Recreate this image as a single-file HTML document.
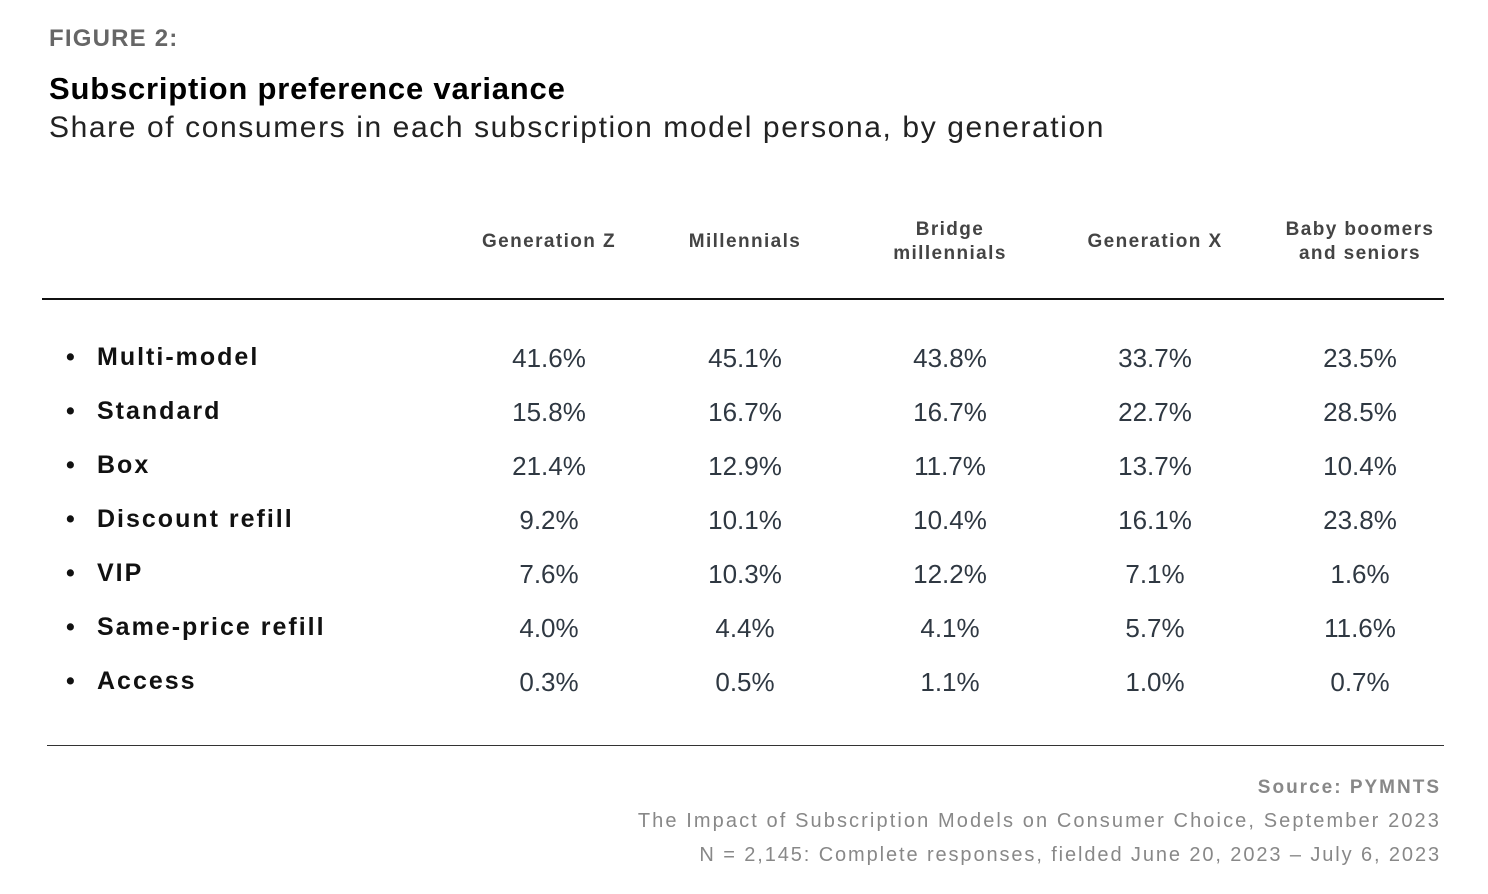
<!DOCTYPE html>
<html><head><meta charset="utf-8"><style>
body{margin:0;width:1488px;height:894px;background:#fff;font-family:"Liberation Sans",sans-serif;position:relative;overflow:hidden}
.a{position:absolute;white-space:nowrap}
.h{font-weight:bold;font-size:19px;color:#444;text-align:center;width:240px;line-height:24px;letter-spacing:1.4px}
.v{font-size:26px;color:#2f3842;text-align:center;width:200px;line-height:30px}
.l{font-weight:bold;font-size:25px;color:#111;left:66px;line-height:30px;letter-spacing:2px}
.f{right:47px;color:#888;font-size:20px;letter-spacing:2px;line-height:24px}
</style></head><body>
<div class="a" style="left:49px;top:25px;font-size:24px;font-weight:bold;color:#666;letter-spacing:1.2px">FIGURE 2:</div>
<div class="a" style="left:49px;top:71px;font-size:31px;font-weight:bold;color:#000;letter-spacing:0.8px">Subscription preference variance</div>
<div class="a" style="left:49px;top:111px;font-size:30px;color:#222;letter-spacing:1.6px">Share of consumers in each subscription model persona, by generation</div>
<div class="a h" style="left:429px;top:230px">Generation Z</div>
<div class="a h" style="left:625px;top:230px">Millennials</div>
<div class="a h" style="left:830px;top:218px">Bridge<br>millennials</div>
<div class="a h" style="left:1035px;top:230px">Generation X</div>
<div class="a h" style="left:1240px;top:218px">Baby boomers<br>and seniors</div>
<div class="a" style="left:42px;top:298px;width:1402px;height:2px;background:#111"></div>
<div class="a" style="left:47px;top:745px;width:1397px;height:1px;background:#333"></div>
<div id="rows"></div>
<div class="a f" style="top:776px;font-weight:bold;font-size:19px">Source: PYMNTS</div>
<div class="a f" style="top:809px;letter-spacing:2.1px">The Impact of Subscription Models on Consumer Choice, September 2023</div>
<div class="a f" style="top:843px;letter-spacing:1.9px">N = 2,145: Complete responses, fielded June 20, 2023 – July 6, 2023</div>
<script>
var d=[["Multi-model","41.6%","45.1%","43.8%","33.7%","23.5%"],["Standard","15.8%","16.7%","16.7%","22.7%","28.5%"],["Box","21.4%","12.9%","11.7%","13.7%","10.4%"],["Discount refill","9.2%","10.1%","10.4%","16.1%","23.8%"],["VIP","7.6%","10.3%","12.2%","7.1%","1.6%"],["Same-price refill","4.0%","4.4%","4.1%","5.7%","11.6%"],["Access","0.3%","0.5%","1.1%","1.0%","0.7%"]];
var cx=[549,745,950,1155,1360],h="";
d.forEach(function(r,i){var t=342+i*54;
h+='<div class="a l" style="top:'+t+'px">•</div><div class="a l" style="left:97px;top:'+t+'px">'+r[0]+'</div>';
for(var j=1;j<6;j++)h+='<div class="a v" style="left:'+(cx[j-1]-100)+'px;top:'+(t+1)+'px">'+r[j]+'</div>';});
document.getElementById("rows").innerHTML=h;
</script>
</body></html>
